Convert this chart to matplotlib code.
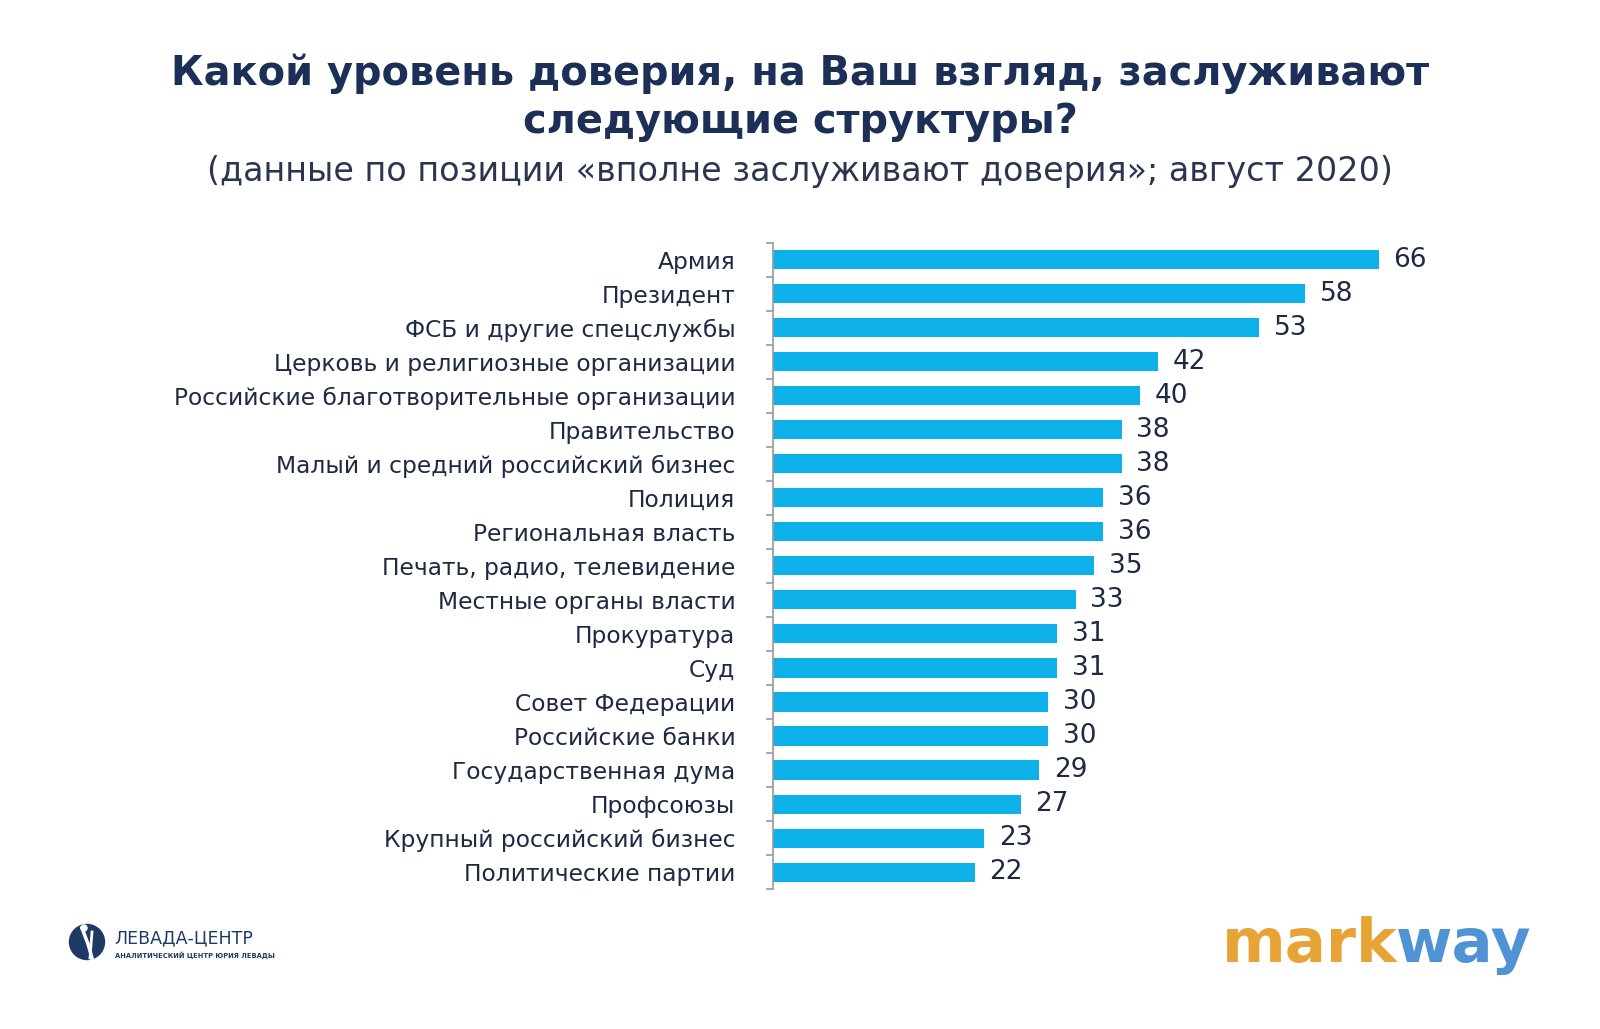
import numpy as np
import matplotlib.pyplot as plt
from matplotlib.patches import Circle

# data
categories = [
    "Армия",
    "Президент",
    "ФСБ и другие спецслужбы",
    "Церковь и религиозные организации",
    "Российские благотворительные организации",
    "Правительство",
    "Малый и средний российский бизнес",
    "Полиция",
    "Региональная власть",
    "Печать, радио, телевидение",
    "Местные органы власти",
    "Прокуратура",
    "Суд",
    "Совет Федерации",
    "Российские банки",
    "Государственная дума",
    "Профсоюзы",
    "Крупный российский бизнес",
    "Политические партии",
]
values = [66, 58, 53, 42, 40, 38, 38, 36, 36, 35, 33, 31, 31, 30, 30, 29, 27, 23, 22]

title = "Какой уровень доверия, на Ваш взгляд, заслуживают\nследующие структуры?"
subtitle = "(данные по позиции «вполне заслуживают доверия»; август 2020)"

navy = "#1b2f57"
text_col = "#1e2a44"
bar_col = "#0db0e8"

plt.rcParams["font.family"] = ["DejaVu Sans"]

fig = plt.figure(figsize=(16, 10.29), dpi=100)
fig.patch.set_facecolor("white")

ax = fig.add_axes([0.483, 0.136, 0.459, 0.628])
y = np.arange(len(categories))
ax.barh(y, values, height=0.56, color=bar_col)
ax.set_ylim(len(categories) - 0.5, -0.5)
ax.set_xlim(0, 80)

for yi, v in zip(y, values):
    ax.text(v + 1.6, yi, str(v), va="center", ha="left", fontsize=19,
            color=text_col)

ax.set_yticks(y)
ax.set_yticklabels(categories, fontsize=16.8, color=text_col)
ax.tick_params(axis="y", which="major", length=0, pad=27)
ax.set_yticks(np.arange(len(categories) + 1) - 0.5, minor=True)
ax.tick_params(axis="y", which="minor", length=5, color="#9a9a9a", width=1.2)
ax.set_xticks([])
for s in ["top", "right", "bottom"]:
    ax.spines[s].set_visible(False)
ax.spines["left"].set_color("#9a9a9a")
ax.spines["left"].set_linewidth(1.2)

# title
fig.text(0.5, 0.905, title, ha="center", va="center", fontsize=28.7,
         fontweight="heavy", color=navy, linespacing=1.25)
fig.text(0.5, 0.833, subtitle, ha="center", va="center", fontsize=24,
         color="#2a3550")

# Levada logo
logo = fig.add_axes([0.0, 0.0, 1.0, 1.0], zorder=-1)
logo.set_xlim(0, 1600)
logo.set_ylim(1029, 0)
logo.axis("off")
logo.add_patch(Circle((87, 942), 17.5, color="#1d3a66"))
logo.plot([82, 88, 92], [928, 944, 958], color="white", lw=2.5)
logo.plot([92, 90], [932, 958], color="white", lw=2)
logo.add_patch(Circle((84, 928), 3, color="white"))
logo.text(114, 938, "ЛЕВАДА-ЦЕНТР", fontsize=12.5, color="#1d3a66",
          va="center", ha="left")
logo.text(115, 955, "АНАЛИТИЧЕСКИЙ ЦЕНТР ЮРИЯ ЛЕВАДЫ", fontsize=4.9,
          color="#1d3a66", va="center", ha="left", fontweight="bold")

# markway logo
t1 = logo.text(1222, 962, "mark", fontsize=44, fontweight="bold",
               color="#e7a335", va="baseline", ha="left")
fig.canvas.draw()
bb = t1.get_window_extent().transformed(logo.transData.inverted())
logo.text(bb.x1 - 2, 962, "way", fontsize=44, fontweight="bold",
          color="#4f93d4", va="baseline", ha="left")

fig.savefig("out.png", dpi=100, facecolor="white")
